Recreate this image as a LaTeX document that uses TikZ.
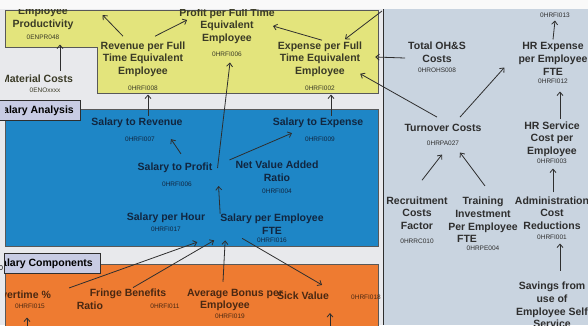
\documentclass[tikz,border=0pt]{standalone}
\usepackage{fontspec}
\setmainfont{Liberation Sans}
\usetikzlibrary{arrows.meta}
\definecolor{bgleft}{HTML}{E8E9EC}
\definecolor{bgright}{HTML}{C9D4E0}
\definecolor{yellowpane}{HTML}{E3E47C}
\definecolor{bluepane}{HTML}{1E86C6}
\definecolor{orangepane}{HTML}{EE7B31}
\definecolor{tabfill}{HTML}{C8CCE4}
\definecolor{ink}{HTML}{2E2E2E}
\definecolor{yink}{HTML}{3A3A26}
\definecolor{bink}{HTML}{112640}
\definecolor{oink}{HTML}{4A2812}

\begin{document}
\begin{tikzpicture}[x=1pt,y=-1pt,
    kpi/.style={font=\bfseries\fontsize{10.5}{12.7}\selectfont, align=center, inner sep=0pt},
    code/.style={font=\fontsize{6.5}{7}\selectfont, inner sep=0pt},
    link/.style={-{Straight Barb[length=3.5pt,width=6pt]}, draw=ink, line width=0.8pt},
    pane/.style={draw=ink!80, line width=0.6pt},
    tab/.style={fill=tabfill, draw=ink, line width=0.8pt}]
    \useasboundingbox (0,0) rectangle (588,325);

    % backgrounds
    \fill[white!95!gray] (0,0) rectangle (588,9);
    \fill[bgleft] (0,9) rectangle (383,325);
    \fill[bgright] (383,9) rectangle (588,325);
    \draw[ink, line width=0.8pt] (383,9) -- (383,325);

    % panes
    \draw[pane, fill=yellowpane] (5,10) -- (378,10) -- (378,93) -- (97,93) -- (97,47) -- (5,47) -- cycle;
    \draw[pane, fill=bluepane] (5,109) rectangle (378,246);
    \draw[pane, fill=orangepane] (5,264) rectangle (378,330);
    \draw[tab] (-1,100) rectangle (80,120);
    \draw[tab] (4.5,253) rectangle (100,273);
    \node[code, font=\fontsize{7}{8}\selectfont] (frag) at (1,268) {0};

    \begin{scope}
    \clip (5,9) rectangle (588,325);
    \node[kpi, anchor=east] (tabA) at (74,110.5) {Salary Analysis};
    \node[kpi, anchor=east] (tabC) at (93,263.5) {Salary Components};

    % yellow pane
    \begin{scope}[every node/.append style={text=yink}]
    \node[kpi] (prod) at (43,18) {Employee\\Productivity};
    \node[code] (prodc) at (43,37) {0ENPR048};
    \node[kpi] (matl) at (37,79) {Material Costs};
    \node[code] (matlc) at (45,90) {0ENOxxxx};
    \node[kpi] (rev) at (143,59) {Revenue per Full\\Time Equivalent\\Employee};
    \node[code] (revc) at (143,88) {0HRFI008};
    \node[kpi] (prof) at (227,26) {Profit per Full Time\\Equivalent\\Employee};
    \node[code] (profc) at (227,54) {0HRFI006};
    \node[kpi] (exp) at (320,59) {Expense per Full\\Time Equivalent\\Employee};
    \node[code] (expc) at (320,88) {0HRFI002};
    \end{scope}

    % blue pane
    \begin{scope}[every node/.append style={text=bink}]
    \node[kpi] (srev) at (137,123) {Salary to Revenue};
    \node[code] (srevc) at (140,139) {0HRFI007};
    \node[kpi] (sexp) at (318,123) {Salary to Expense};
    \node[code] (sexpc) at (320,139) {0HRFI009};
    \node[kpi] (sprof) at (175,168) {Salary to Profit};
    \node[code] (sprofc) at (177,184) {0HRFI006};
    \node[kpi] (nva) at (277,171) {Net Value Added\\Ratio};
    \node[code] (nvac) at (277,191) {0HRFI004};
    \node[kpi] (shour) at (166,218) {Salary per Hour};
    \node[code] (shourc) at (166,229) {0HRFI017};
    \node[kpi] (semp) at (272,224) {Salary per Employee\\FTE};
    \node[code] (sempc) at (272,240) {0HRFI016};
    \end{scope}

    % orange pane
    \begin{scope}[every node/.append style={text=oink}]
    \node[kpi] (over) at (22,295) {Overtime \%};
    \node[code] (overc) at (30,306) {0HRFI015};
    \node[kpi, align=left] (fringe) at (128,299) {Fringe Benefits\\\hspace*{-13pt}Ratio};
    \node[code] (fringec) at (165,306) {0HRFI011};
    \node[kpi] (bonus) at (235,300) {Average Bonus per\\\hspace*{-20pt}Employee};
    \node[code] (bonusc) at (230,316) {0HRFI019};
    \node[kpi] (sick) at (303,296) {Sick Value};
    \node[code] (sickc) at (366,297) {0HRFI018};
    \end{scope}

    % right pane
    \begin{scope}[every node/.append style={text=ink}]
    \node[code] (kpi13c) at (555,15) {0HRFI013};
    \node[kpi] (hrexp) at (553,59) {HR Expense\\per Employee\\FTE};
    \node[code] (hrexpc) at (553,81) {0HRFI012};
    \node[kpi] (ohs) at (437,52) {Total OH\&S\\Costs};
    \node[code] (ohsc) at (437,70) {0HROHS008};
    \node[kpi] (turn) at (443,128) {Turnover Costs};
    \node[code] (turnc) at (443,143) {0HRPA027};
    \node[kpi] (hrsvc) at (552,139) {HR Service\\Cost per\\Employee};
    \node[code] (hrsvcc) at (552,161) {0HRFI003};
    \node[kpi] (recr) at (417,213) {Recruitment\\Costs\\Factor};
    \node[code] (recrc) at (417,241) {0HRRC010};
    \node[kpi] (train) at (483,220) {Training\\Investment\\Per Employee\\\hspace*{-32pt}FTE};
    \node[code] (trainc) at (483,248) {0HRPE004};
    \node[kpi] (admin) at (552,213) {Administration\\Cost\\Reductions};
    \node[code] (adminc) at (552,237) {0HRFI001};
    \node[kpi] (save) at (552,305) {Savings from\\use of\\Employee Self\\Service};
    \end{scope}

    \coordinate (expin) at (382,11);
    \coordinate (sickin) at (330,326);
    \coordinate (overin) at (27,326);

    % links
    \draw[link] ([xshift=23pt,yshift=4pt]matl.north) -- ([xshift=17pt,yshift=-5pt]prodc.south);
    \draw[link] ([xshift=-20pt,yshift=5pt]rev.north) -- ([xshift=29pt,yshift=3pt]prod.east);
    \draw[link] ([xshift=12pt,yshift=5pt]rev.north) -- ([xshift=8pt,yshift=6pt]prof.west);
    \draw[link] ([xshift=2pt,yshift=1pt]exp.north) -- ([xshift=-2pt]prof.east);
    \draw[link] ([xshift=11pt,yshift=2pt]srev.north) -- ([xshift=5pt,yshift=-4pt]revc.south);
    \draw[link] ([xshift=13pt,yshift=2pt]sexp.north) -- ([xshift=11pt,yshift=-4pt]expc.south);
    \draw[link] ([xshift=5pt]sprof.east) -- ([xshift=3pt,yshift=-6pt]profc.south);
    \draw[link] ([xshift=6pt,yshift=9pt]sprof.north) -- ([xshift=34pt,yshift=-11pt]srev.south);
    \draw[link] ([xshift=17pt,yshift=3pt]sprof.north east) -- ([xshift=-26pt,yshift=-5pt]sexp.south);
    \draw[link] (semp.north west) -- ([xshift=6pt,yshift=-18pt]sprof.east);
    \draw[link] ([xshift=18pt,yshift=3pt]over.north east) -- ([xshift=-8pt,yshift=-19pt]shour.south east);
    \draw[link] ([xshift=5pt,yshift=1pt]fringe.north) -- ([xshift=-6pt,yshift=-6pt]semp.south west);
    \draw[link] ([xshift=-12pt,yshift=7pt]bonus.north) -- ([xshift=5pt,yshift=-6pt]semp.south west);
    \draw[link] ([xshift=22pt,yshift=-4pt]semp.south west) -- ([xshift=19pt,yshift=7pt]sick.north);
    \draw[link] (sickin) -- ([xshift=27pt,yshift=-13pt]sick.south);
    \draw[link] (overin) -- ([xshift=-3pt,yshift=-9pt]overc.south);
    \draw[link] ([yshift=3pt]hrexp.north) -- ([yshift=-3pt]kpi13c.south);
    \draw[link] ([xshift=8pt,yshift=2pt]hrsvc.north) -- ([xshift=7pt,yshift=-8pt]hrexpc.south);
    \draw[link] ([xshift=1pt,yshift=4pt]admin.north) -- ([xshift=1pt,yshift=-5pt]hrsvcc.south);
    \draw[link] ([xshift=8pt,yshift=11pt]save.north) -- ([xshift=8pt,yshift=-4pt]adminc.south);
    \draw[link] ([xshift=5pt,yshift=16pt]recr.north) -- ([xshift=-1pt,yshift=-9pt]turnc.south);
    \draw[link] ([xshift=2pt,yshift=11pt]train.north) -- ([xshift=17pt,yshift=-7pt]turnc.south);
    \draw[link] ([xshift=-6pt,yshift=7pt]turn.north) -- ([xshift=-2pt,yshift=3pt]exp.south east);
    \draw[link] ([xshift=17pt,yshift=7pt]turn.north) -- ([xshift=-14pt,yshift=8pt]hrexp.south west);
    \draw[link] ([xshift=-3pt,yshift=-6pt]ohs.west) -- ([xshift=13pt,yshift=2pt]exp.east);
    \draw[link] (expin) -- ([xshift=25pt,yshift=2pt]exp.north);
    \end{scope}
\end{tikzpicture}
\end{document}
